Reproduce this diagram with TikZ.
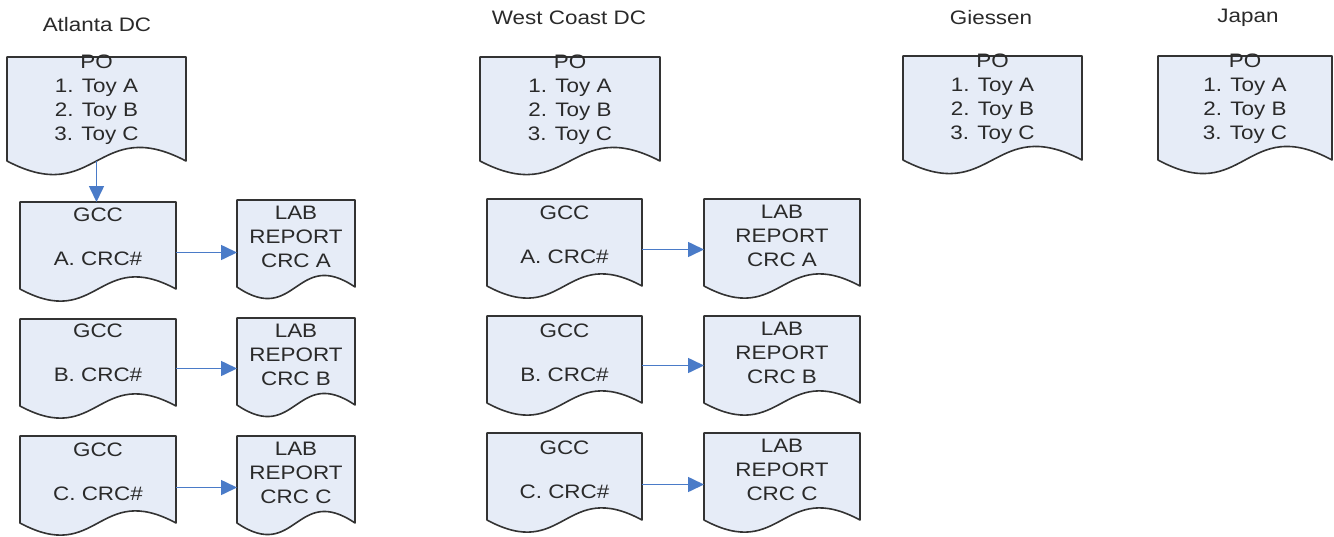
\documentclass[tikz,border=0pt]{standalone}
\usepackage{fontspec}
\setmainfont[FakeStretch=1.15]{Liberation Sans}
\usetikzlibrary{arrows.meta,calc,backgrounds}
\definecolor{docfill}{HTML}{E6ECF7}
\definecolor{docline}{HTML}{333333}
\definecolor{doctext}{HTML}{2A2A2A}
\definecolor{flow}{HTML}{4A7BC8}
\tikzset{
  box/.style={draw=none,fill=none,inner sep=0pt,outer sep=0pt},
  txt/.style={align=center,inner sep=0pt,text=doctext,font=\fontsize{19.5}{24}\selectfont},
  title/.style={inner sep=0pt,text=doctext,font=\fontsize{19.5}{22}\selectfont},
  link/.style={draw=flow,line width=1.6pt,-{Triangle[length=16pt,width=15pt]}},
  docpath/.style={draw=docline,fill=docfill,line width=1.6pt,line join=round}
}
\begin{document}
\begin{tikzpicture}[x=1pt,y=-1pt]
\useasboundingbox (0,0) rectangle (1334,536);

% ---------- titles ----------
\node[title] (tAtl) at (97,25) {Atlanta DC};
\node[title] (tWest) at (569,18) {West Coast DC};
\node[title] (tGie) at (991,18) {Giessen};
\node[title] (tJap) at (1248,18) {Japan};

% ---------- document boxes: straight part, name / left / top / right / bottom ----------
\newcommand{\doc}[5]{%
  \node[box,minimum width={#4-#2},minimum height={#5-#3}] (#1) at ({(#2+#4)/2},{(#3+#5)/2}) {};}
% Atlanta DC
\doc{poA}{7}{57}{186}{161}
\doc{gA1}{20}{202}{176}{289}
\doc{lA1}{237}{200}{355}{287}
\doc{gA2}{20}{319}{176}{406}
\doc{lA2}{237}{318}{355}{405}
\doc{gA3}{20}{436}{176}{523}
\doc{lA3}{237}{436}{355}{523}
% West Coast DC
\doc{poW}{480}{57}{660}{161}
\doc{gW1}{487}{199}{642}{286}
\doc{lW1}{704}{199}{860}{286}
\doc{gW2}{487}{316}{642}{403}
\doc{lW2}{704}{316}{860}{403}
\doc{gW3}{487}{433}{642}{520}
\doc{lW3}{704}{433}{860}{520}
% Giessen and Japan
\doc{poG}{903}{56}{1082}{160}
\doc{poJ}{1158}{56}{1332}{160}

% ---------- outlines with wavy bottom ----------
\begin{scope}[on background layer]
\foreach \n/\a in {poA/47,poW/47,poG/47,poJ/47,
  gA1/42,lA1/40,gA2/42,lA2/40,gA3/42,lA3/40,
  gW1/42,lW1/42,gW2/42,lW2/42,gW3/42,lW3/42}{
  \path[docpath] (\n.south west) -- (\n.north west) -- (\n.north east)
    -- (\n.south east)
    .. controls ($(\n.south)+(0,-\a)$) and ($(\n.south)+(0,\a)$) .. (\n.south west) -- cycle;
}
\end{scope}

% ---------- texts ----------
\foreach \n in {poA,poW,poG,poJ}{
  \node[txt] (\n-t) at ($(\n.north)+(0,43)$) {PO\\1. Toy A\\2. Toy B\\3. Toy C};
}
\node[txt] (gA1-t) at ($(gA1.north)+(0,35)$) {GCC\\[20pt]A. CRC\#};
\node[txt] (gA2-t) at ($(gA2.north)+(0,34)$) {GCC\\[20pt]B. CRC\#};
\node[txt] (gA3-t) at ($(gA3.north)+(0,36)$) {GCC\\[20pt]C. CRC\#};
\node[txt] (gW1-t) at ($(gW1.north)+(0,36)$) {GCC\\[20pt]A. CRC\#};
\node[txt] (gW2-t) at ($(gW2.north)+(0,37)$) {GCC\\[20pt]B. CRC\#};
\node[txt] (gW3-t) at ($(gW3.north)+(0,37)$) {GCC\\[20pt]C. CRC\#};
\node[txt] (lA1-t) at ($(lA1.north)+(0,37)$) {LAB\\REPORT\\CRC A};
\node[txt] (lA2-t) at ($(lA2.north)+(0,37)$) {LAB\\REPORT\\CRC B};
\node[txt] (lA3-t) at ($(lA3.north)+(0,37)$) {LAB\\REPORT\\CRC C};
\node[txt] (lW1-t) at ($(lW1.north)+(0,37)$) {LAB\\REPORT\\CRC A};
\node[txt] (lW2-t) at ($(lW2.north)+(0,37)$) {LAB\\REPORT\\CRC B};
\node[txt] (lW3-t) at ($(lW3.north)+(0,37)$) {LAB\\REPORT\\CRC C};

% ---------- connectors ----------
\coordinate (sA) at ($(poA.south)+(0,0)$);
\draw[link] (sA) -- (sA |- gA1.north);
\coordinate (cA1) at ($(gA1.east)+(0,7)$);
\coordinate (cA2) at ($(gA2.east)+(0,6)$);
\coordinate (cA3) at ($(gA3.east)+(0,8)$);
\coordinate (cW1) at ($(gW1.east)+(0,7)$);
\coordinate (cW2) at ($(gW2.east)+(0,6)$);
\coordinate (cW3) at ($(gW3.east)+(0,8)$);
\draw[link] (cA1) -- (cA1 -| lA1.west);
\draw[link] (cA2) -- (cA2 -| lA2.west);
\draw[link] (cA3) -- (cA3 -| lA3.west);
\draw[link] (cW1) -- (cW1 -| lW1.west);
\draw[link] (cW2) -- (cW2 -| lW2.west);
\draw[link] (cW3) -- (cW3 -| lW3.west);
\end{tikzpicture}
\end{document}
